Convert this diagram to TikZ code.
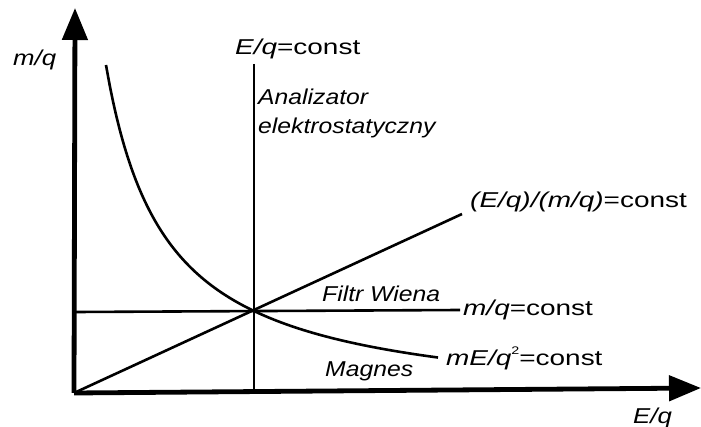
\documentclass[tikz,border=0pt]{standalone}
\usepackage{fontspec}
\setmainfont{Liberation Sans}
\usetikzlibrary{arrows.meta}
\newcommand{\stretchtxt}[2][1.3]{\scalebox{#1}[1]{#2}}
\tikzset{
  axis/.style={line width=4.8pt,-{Triangle[length=32pt,width=25pt]}},
  curve/.style={line width=2.6pt},
  lbl/.style={inner sep=0pt,anchor=base west,font=\fontsize{21.5}{24}\selectfont},
}
\begin{document}
\begin{tikzpicture}[x=1pt,y=-1pt]
\useasboundingbox (0,0) rectangle (701,427);
\coordinate (O) at (74,393);
\coordinate (ytop) at (75,8);
\coordinate (xend) at (701,388);
\coordinate (X) at (254,311);
\coordinate (vtop) at (254,64);
\coordinate (vbot) at (254,393);
\coordinate (hl) at (76,312);
\coordinate (hr) at (460,310);
\coordinate (dend) at (462,214);
% thin lines
\draw[curve] (vtop) -- (vbot);
\draw[curve] (hl) -- (hr);
\draw[curve] (O) -- (dend);
\draw[curve] plot[domain=32:364,samples=90,smooth] ({74+\x},{410-(205.48/(\x+27.56))*100});
% axes
\draw[axis] (O) -- (ytop);
\draw[axis] (O) -- (xend);
% labels
\node[lbl] (my) at (13,66) {\stretchtxt[1.2]{\itshape m/q}};
\node[lbl] (ex) at (633,423) {\stretchtxt[1.2]{\itshape E/q}};
\node[lbl] (ec) at (235,55) {\stretchtxt[1.3]{\textit{E/q}=const}};
\node[lbl] (an1) at (258,105) {\stretchtxt[1.15]{\itshape Analizator}};
\node[lbl] (an2) at (258,134) {\stretchtxt[1.15]{\itshape elektrostatyczny}};
\node[lbl] (rat) at (470,208) {\stretchtxt[1.3]{\textit{(E/q)/(m/q)}=const}};
\node[lbl] (fw) at (322,302) {\stretchtxt[1.15]{\itshape Filtr Wiena}};
\node[lbl] (mc) at (463,316) {\stretchtxt[1.3]{\textit{m/q}=const}};
\node[lbl] (mg) at (325,376) {\stretchtxt[1.15]{\itshape Magnes}};
\node[lbl] (me) at (446,366) {\stretchtxt[1.3]{\textit{mE/q}\raisebox{0.55em}{\fontsize{11}{12}\selectfont 2}=const}};
\end{tikzpicture}
\end{document}
